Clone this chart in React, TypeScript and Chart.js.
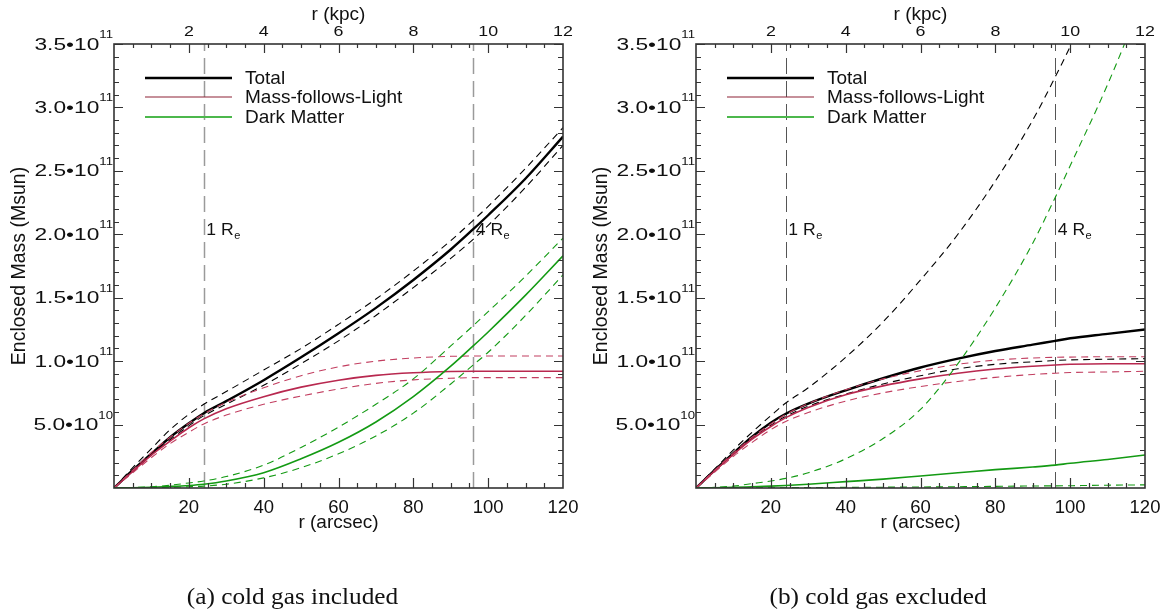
import React, { useEffect, useRef } from "react";
import { Chart, registerables } from "chart.js";
Chart.register(...registerables);

// radii (arcsec) at which the curves are sampled
const R_ARCSEC = [0, 5, 10, 15, 20, 24, 30, 40, 50, 60, 70, 80, 90, 96, 100, 110, 120];

// Panel (a): cold gas included — values in units of 1e10 Msun
const A_TOTAL = [0, 1.4, 2.7, 4.0, 5.1, 5.9, 6.85, 8.5, 10.3, 12.2, 14.2, 16.4, 18.8, 20.4, 21.5, 24.4, 27.7];
const A_TOTAL_HI = [0, 1.6, 3.1, 4.6, 5.8, 6.6, 7.6, 9.3, 11.0, 12.9, 14.9, 17.1, 19.5, 21.1, 22.2, 25.2, 28.4];
const A_TOTAL_LO = [0, 1.3, 2.6, 3.8, 4.9, 5.7, 6.6, 8.1, 9.8, 11.6, 13.6, 15.8, 18.1, 19.6, 20.7, 23.7, 27.0];
const A_MFL = [0, 1.3, 2.6, 3.7, 4.75, 5.45, 6.25, 7.2, 7.95, 8.5, 8.88, 9.08, 9.18, 9.2, 9.2, 9.2, 9.2];
const A_MFL_HI = [0, 1.4, 2.8, 4.0, 5.1, 5.85, 6.75, 7.9, 8.85, 9.55, 10.0, 10.25, 10.38, 10.4, 10.4, 10.4, 10.4];
const A_MFL_LO = [0, 1.2, 2.4, 3.5, 4.4, 5.05, 5.75, 6.6, 7.25, 7.8, 8.25, 8.52, 8.65, 8.7, 8.7, 8.7, 8.7];
const A_DM = [0, 0.02, 0.06, 0.12, 0.2, 0.3, 0.55, 1.2, 2.3, 3.6, 5.2, 7.2, 9.6, 11.2, 12.3, 15.2, 18.3];
const A_DM_HI = [0, 0.03, 0.1, 0.22, 0.4, 0.55, 0.9, 1.8, 3.2, 4.8, 6.6, 8.6, 11.2, 12.8, 13.9, 16.7, 19.7];
const A_DM_LO = [0, 0.01, 0.03, 0.06, 0.1, 0.15, 0.3, 0.8, 1.6, 2.7, 4.1, 5.9, 8.2, 9.7, 10.7, 13.6, 16.8];

// Panel (b): cold gas excluded — values in units of 1e10 Msun
const B_TOTAL = [0, 1.4, 2.75, 4.05, 5.15, 5.85, 6.65, 7.7, 8.65, 9.5, 10.2, 10.8, 11.3, 11.6, 11.8, 12.15, 12.5];
const B_TOTAL_HI = [0, 1.5, 3.0, 4.4, 5.7, 6.7, 7.9, 10.3, 13.1, 16.4, 20.0, 24.2, 29.0, 32.4, 34.8, 41.5, 48.0];
const B_TOTAL_LO = [0, 1.35, 2.65, 3.9, 4.95, 5.65, 6.45, 7.4, 8.2, 8.85, 9.4, 9.75, 9.95, 10.05, 10.1, 10.15, 10.2];
const B_MFL = [0, 1.35, 2.65, 3.85, 4.85, 5.55, 6.35, 7.35, 8.05, 8.6, 9.05, 9.38, 9.6, 9.7, 9.75, 9.8, 9.8];
const B_MFL_HI = [0, 1.4, 2.75, 4.0, 5.05, 5.8, 6.65, 7.75, 8.6, 9.25, 9.75, 10.08, 10.25, 10.3, 10.32, 10.35, 10.35];
const B_MFL_LO = [0, 1.25, 2.5, 3.6, 4.6, 5.25, 5.95, 6.85, 7.5, 8.0, 8.4, 8.72, 8.95, 9.05, 9.1, 9.15, 9.2];
const B_DM = [0, 0.02, 0.05, 0.1, 0.15, 0.2, 0.3, 0.5, 0.7, 0.95, 1.2, 1.45, 1.65, 1.8, 1.95, 2.25, 2.6];
const B_DM_HI = [0, 0.05, 0.15, 0.35, 0.55, 0.76, 1.2, 2.3, 3.9, 6.2, 9.8, 14.2, 19.3, 22.9, 25.4, 31.8, 39.0];
const B_DM_LO = [0, 0.005, 0.01, 0.015, 0.02, 0.025, 0.03, 0.05, 0.065, 0.08, 0.1, 0.13, 0.16, 0.17, 0.18, 0.22, 0.25];

// axis labels
const Y_TICK_VALUES = [5e10, 1e11, 1.5e11, 2e11, 2.5e11, 3e11, 3.5e11];
const Y_TICK_MANTISSA = ["5.0", "1.0", "1.5", "2.0", "2.5", "3.0", "3.5"];
const Y_TICK_EXPONENT = ["10", "11", "11", "11", "11", "11", "11"];
const X_TICK_VALUES = [20, 40, 60, 80, 100, 120];
const KPC_TICK_VALUES = [2, 4, 6, 8, 10, 12];
const RE_RADII = [24, 96];
const RE_NUMBERS = ["1", "4"];
const LEGEND_LABELS = ["Total", "Mass-follows-Light", "Dark Matter"];
const CAPTIONS = ["(a) cold gas included", "(b) cold gas excluded"];

const BLACK = "#000000";
const CRIMSON = "#b8284f";
const CRIMSON_D = "#c23e60";
const GREEN = "#139a13";
const LEGEND_COLORS = [BLACK, "#8e2236", "#4cb84c"];
const LEGEND_WIDTHS = [2.6, 1.2, 2.2];

const SANS = '"Liberation Sans", Arial, Helvetica, sans-serif';
const SERIF = '"Liberation Serif", "Times New Roman", serif';

function drawText(ctx: any, s: string, x: number, y: number, size: number, sx: number, align: string, family = SANS) {
  ctx.save();
  ctx.font = `${size}px ${family}`;
  const w = ctx.measureText(s).width * sx;
  const x0 = align === "left" ? x : align === "right" ? x - w : x - w / 2;
  ctx.translate(x0, y);
  ctx.scale(sx, 1);
  ctx.textAlign = "left";
  ctx.textBaseline = "alphabetic";
  ctx.fillStyle = "#111";
  ctx.fillText(s, 0, 0);
  ctx.restore();
  return w;
}

function textWidth(ctx: any, s: string, size: number, sx: number, family = SANS) {
  ctx.save();
  ctx.font = `${size}px ${family}`;
  const w = ctx.measureText(s).width * sx;
  ctx.restore();
  return w;
}

type PanelDef = {
  left: number;
  width: number;
  padL: number;
  padR: number;
  caption: string;
  vColor: string;
  vWidth: number;
  vDash: number[];
  series: { vals: number[]; color: string; width: number; dash: number[] }[];
};

function makePlugin(p: PanelDef) {
  return {
    id: "idlAxes",
    beforeDatasetsDraw(chart: any) {
      const { ctx, chartArea: ca } = chart;
      const xs = chart.scales.x;
      const ys = chart.scales.y;
      ctx.save();
      ctx.beginPath();
      ctx.rect(ca.left, ca.top, ca.right - ca.left, ca.bottom - ca.top);
      ctx.clip();
      ctx.strokeStyle = p.vColor;
      ctx.lineWidth = p.vWidth;
      ctx.setLineDash(p.vDash);
      RE_RADII.forEach((r) => {
        const x = Math.round(xs.getPixelForValue(r)) + 0.5;
        ctx.beginPath();
        ctx.moveTo(x, ca.bottom);
        ctx.lineTo(x, ca.top);
        ctx.stroke();
      });
      ctx.restore();
      RE_RADII.forEach((r, i) => {
        const x = xs.getPixelForValue(r) + 2.5;
        const y = ys.getPixelForValue(2.0e11) + 1;
        const w = drawText(ctx, RE_NUMBERS[i] + " R", x, y, 16, 1.1, "left");
        drawText(ctx, "e", x + w + 0.5, y + 3.5, 10, 1.1, "left");
      });
    },
    afterDatasetsDraw(chart: any) {
      const { ctx, chartArea: ca } = chart;
      const xs = chart.scales.x;
      const x2 = chart.scales.x2;
      const ys = chart.scales.y;
      ctx.save();
      // ticks (drawn inward)
      ctx.strokeStyle = "#333";
      ctx.lineWidth = 1.2;
      ctx.setLineDash([]);
      ctx.beginPath();
      for (let v = 1e10; v < 3.5e11 + 1; v += 1e10) {
        const major = Math.round(v / 1e10) % 5 === 0;
        const len = major ? 9 : 5;
        const y = Math.round(ys.getPixelForValue(v)) + 0.5;
        ctx.moveTo(ca.left, y);
        ctx.lineTo(ca.left + len, y);
        ctx.moveTo(ca.right, y);
        ctx.lineTo(ca.right - len, y);
      }
      for (let r = 5; r < 120; r += 5) {
        const major = r % 20 === 0;
        const len = major ? 10 : 5;
        const x = Math.round(xs.getPixelForValue(r)) + 0.5;
        ctx.moveTo(x, ca.bottom);
        ctx.lineTo(x, ca.bottom - len);
      }
      for (let k = 0.5; k < 12; k += 0.5) {
        const major = Math.abs(k % 2) < 1e-6;
        const len = major ? 9 : 4;
        const x = Math.round(x2.getPixelForValue(k)) + 0.5;
        ctx.moveTo(x, ca.top);
        ctx.lineTo(x, ca.top + len);
      }
      ctx.stroke();
      // frame
      ctx.lineWidth = 1.6;
      ctx.strokeRect(ca.left, ca.top, ca.right - ca.left, ca.bottom - ca.top);
      ctx.restore();

      // y tick labels
      Y_TICK_VALUES.forEach((v, i) => {
        const y = ys.getPixelForValue(v);
        const main = Y_TICK_MANTISSA[i] + "\u202210";
        const w2 = textWidth(ctx, Y_TICK_EXPONENT[i], 11, 1.2);
        const w1 = textWidth(ctx, main, 16, 1.42);
        const xr = ca.left - 1;
        drawText(ctx, main, xr - w2 - w1, y + 5.6, 16, 1.42, "left");
        drawText(ctx, Y_TICK_EXPONENT[i], xr - w2, y - 6, 11, 1.2, "left");
      });
      // bottom tick labels
      X_TICK_VALUES.forEach((v) => {
        drawText(ctx, String(v), xs.getPixelForValue(v), ca.bottom + 25, 18.5, 1.0, "center");
      });
      // top tick labels
      KPC_TICK_VALUES.forEach((v) => {
        drawText(ctx, String(v), x2.getPixelForValue(v), ca.top - 8, 15.5, 1.15, "center");
      });
      const cx = (ca.left + ca.right) / 2;
      drawText(ctx, "r (arcsec)", cx, ca.bottom + 40, 19, 1, "center");
      drawText(ctx, "r (kpc)", cx, ca.top - 24, 19, 1, "center");
      // y title
      ctx.save();
      ctx.translate(ca.left - 89, (ca.top + ca.bottom) / 2);
      ctx.rotate(-Math.PI / 2);
      drawText(ctx, "Enclosed Mass (Msun)", 0, 0, 19.5, 1, "center");
      ctx.restore();
      // legend
      LEGEND_LABELS.forEach((lab, i) => {
        const y = ca.top + [34, 53, 73][i];
        ctx.save();
        ctx.strokeStyle = LEGEND_COLORS[i];
        ctx.lineWidth = LEGEND_WIDTHS[i];
        ctx.beginPath();
        ctx.moveTo(ca.left + 31, y);
        ctx.lineTo(ca.left + 118, y);
        ctx.stroke();
        ctx.restore();
        drawText(ctx, lab, ca.left + 131, y + 6, 19, 1, "left");
      });
      // caption
      drawText(ctx, p.caption, chart.width / 2, 604, 23, 1.1, "center", SERIF);
    },
  };
}

function Panel({ p }: { p: PanelDef }) {
  const ref = useRef<HTMLCanvasElement>(null);
  useEffect(() => {
    const datasets = p.series.map((s) => ({
      data: R_ARCSEC.map((r, i) => ({ x: r, y: s.vals[i] * 1e10 })),
      borderColor: s.color,
      borderWidth: s.width,
      borderDash: s.dash,
      pointRadius: 0,
      fill: false,
      clip: 0,
      cubicInterpolationMode: "monotone",
    }));
    const chart = new Chart(ref.current as HTMLCanvasElement, {
      type: "line",
      data: { datasets: datasets as any },
      options: {
        responsive: false,
        animation: false,
        events: [],
        layout: { padding: { left: p.padL, top: 44, right: p.padR, bottom: 613 - 488 } },
        plugins: { legend: { display: false }, tooltip: { enabled: false } },
        scales: {
          x: { type: "linear", min: 0, max: 120, display: false },
          x2: { type: "linear", axis: "x", position: "top", min: 0, max: 12, display: false },
          y: { type: "linear", min: 0, max: 3.5e11, display: false },
        } as any,
      },
      plugins: [makePlugin(p) as any],
    });
    return () => chart.destroy();
  }, []);
  return (
    <canvas
      ref={ref}
      width={p.width}
      height={613}
      style={{ position: "absolute", left: p.left, top: 0, width: p.width, height: 613 }}
    />
  );
}

const DASH = [7, 5];

const PANEL_A: PanelDef = {
  left: 0,
  width: 585,
  padL: 114,
  padR: 22,
  caption: CAPTIONS[0],
  vColor: "#9a9a9a",
  vWidth: 1.5,
  vDash: [16, 7],
  series: [
    { vals: A_DM_HI, color: GREEN, width: 1.1, dash: DASH },
    { vals: A_DM_LO, color: GREEN, width: 1.1, dash: DASH },
    { vals: A_DM, color: GREEN, width: 1.6, dash: [] },
    { vals: A_MFL_HI, color: CRIMSON_D, width: 1.1, dash: DASH },
    { vals: A_MFL_LO, color: CRIMSON_D, width: 1.1, dash: DASH },
    { vals: A_MFL, color: CRIMSON, width: 1.6, dash: [] },
    { vals: A_TOTAL_HI, color: BLACK, width: 1.1, dash: DASH },
    { vals: A_TOTAL_LO, color: BLACK, width: 1.1, dash: DASH },
    { vals: A_TOTAL, color: BLACK, width: 2.4, dash: [] },
  ],
};

const PANEL_B: PanelDef = {
  left: 585,
  width: 586,
  padL: 111,
  padR: 26,
  caption: CAPTIONS[1],
  vColor: "#555555",
  vWidth: 1,
  vDash: [16, 7],
  series: [
    { vals: B_DM_HI, color: GREEN, width: 1.1, dash: DASH },
    { vals: B_DM_LO, color: GREEN, width: 1.1, dash: DASH },
    { vals: B_DM, color: GREEN, width: 1.6, dash: [] },
    { vals: B_MFL_HI, color: CRIMSON_D, width: 1.1, dash: DASH },
    { vals: B_MFL_LO, color: CRIMSON_D, width: 1.1, dash: DASH },
    { vals: B_MFL, color: CRIMSON, width: 1.6, dash: [] },
    { vals: B_TOTAL_HI, color: BLACK, width: 1.1, dash: DASH },
    { vals: B_TOTAL_LO, color: BLACK, width: 1.1, dash: DASH },
    { vals: B_TOTAL, color: BLACK, width: 2.4, dash: [] },
  ],
};

export default function App() {
  return (
    <div style={{ position: "absolute", left: 0, top: 0, width: 1171, height: 613, background: "#fff", overflow: "hidden" }}>
      <Panel p={PANEL_A} />
      <Panel p={PANEL_B} />
    </div>
  );
}
